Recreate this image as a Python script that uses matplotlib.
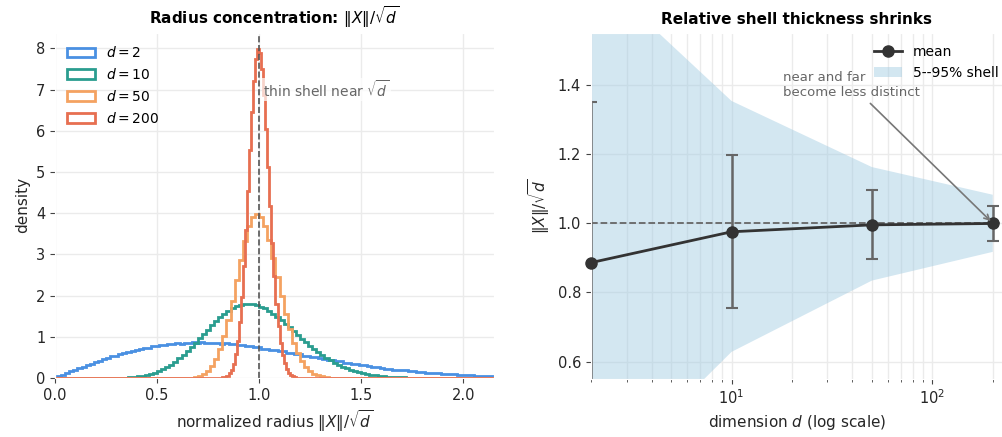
import numpy as np
import matplotlib
matplotlib.use("Agg")
import matplotlib.pyplot as plt
from matplotlib.ticker import MultipleLocator

# histogram densities of ||X||/sqrt(d)
d2_edges = np.arange(0.01, 2.1901, 0.02)
d2_vals = [0.040, 0.083, 0.118, 0.162, 0.195, 0.241, 0.272, 0.318, 0.344, 0.390,
           0.414, 0.459, 0.481, 0.525, 0.543, 0.584, 0.598, 0.640, 0.651, 0.690,
           0.697, 0.733, 0.738, 0.771, 0.772, 0.802, 0.800, 0.826, 0.822, 0.845,
           0.836, 0.858, 0.847, 0.866, 0.851, 0.866, 0.849, 0.861, 0.843, 0.852,
           0.830, 0.838, 0.814, 0.818, 0.795, 0.796, 0.772, 0.770, 0.744, 0.741,
           0.715, 0.711, 0.683, 0.679, 0.650, 0.645, 0.616, 0.610, 0.580, 0.575,
           0.545, 0.539, 0.509, 0.503, 0.474, 0.468, 0.439, 0.434, 0.405, 0.401,
           0.372, 0.368, 0.340, 0.337, 0.311, 0.307, 0.282, 0.279, 0.255, 0.252,
           0.230, 0.228, 0.206, 0.205, 0.184, 0.184, 0.164, 0.165, 0.146, 0.147,
           0.129, 0.131, 0.113, 0.116, 0.099, 0.102, 0.086, 0.089, 0.075, 0.078,
           0.065, 0.067, 0.056, 0.058, 0.049, 0.050, 0.042, 0.043, 0.036]

d10_edges = np.arange(0.30, 1.8001, 0.02)
d10_vals = [0.004, 0.007, 0.011, 0.017, 0.025, 0.037, 0.052, 0.072, 0.097, 0.128,
            0.166, 0.211, 0.264, 0.326, 0.396, 0.474, 0.560, 0.652, 0.751, 0.853,
            0.960, 1.068, 1.174, 1.278, 1.378, 1.470, 1.553, 1.628, 1.688, 1.737,
            1.773, 1.794, 1.800, 1.792, 1.770, 1.735, 1.688, 1.630, 1.563, 1.489,
            1.406, 1.320, 1.231, 1.140, 1.049, 0.958, 0.869, 0.784, 0.703, 0.627,
            0.555, 0.489, 0.428, 0.372, 0.322, 0.276, 0.236, 0.201, 0.169, 0.142,
            0.119, 0.099, 0.082, 0.067, 0.055, 0.045, 0.036, 0.029, 0.023, 0.018,
            0.015, 0.011, 0.009, 0.007, 0.005]

d50_edges = np.arange(0.6, 1.4001, 0.02)
d50_vals = [0.001, 0.002, 0.005, 0.012, 0.025, 0.049, 0.094, 0.170, 0.288, 0.461,
            0.706, 1.03, 1.42, 1.88, 2.39, 2.87, 3.32, 3.68, 3.90, 3.99,
            3.91, 3.68, 3.34, 2.92, 2.46, 2.00, 1.56, 1.18, 0.86, 0.607,
            0.413, 0.273, 0.175, 0.108, 0.064, 0.037, 0.021, 0.011, 0.006, 0.003]

d200_edges = np.arange(0.8, 1.2001, 0.01)
d200_vals = [0.003, 0.006, 0.014, 0.030, 0.059, 0.111, 0.201, 0.348, 0.575, 0.902,
             1.36, 1.97, 2.71, 3.59, 4.55, 5.53, 6.45, 7.21, 7.74, 7.98,
             7.89, 7.51, 6.87, 6.04, 5.12, 4.17, 3.27, 2.47, 1.80, 1.27,
             0.858, 0.563, 0.355, 0.216, 0.127, 0.073, 0.040, 0.021, 0.011, 0.006]

hist_labels = ["$d=2$", "$d=10$", "$d=50$", "$d=200$"]
hist_colors = ["#4a90e2", "#2a9d8f", "#f4a261", "#e76f51"]

# shell summary per dimension
dims = [2, 10, 50, 200]
mean_r = [0.886, 0.975, 0.995, 0.999]
std_r = [0.463, 0.221, 0.100, 0.050]
q05 = [0.226, 0.628, 0.834, 0.917]
q95 = [1.731, 1.353, 1.162, 1.082]

plt.rcParams.update({
    "font.family": "DejaVu Sans",
    "font.size": 11,
    "xtick.labelsize": 10.5,
    "ytick.labelsize": 10.5,
    "axes.edgecolor": "white",
    "axes.grid": True,
    "grid.color": "#ebebeb",
    "grid.linewidth": 1.0,
    "xtick.color": "#444444",
    "ytick.color": "#444444",
    "xtick.labelcolor": "#262626",
    "ytick.labelcolor": "#262626",
    "axes.labelcolor": "#262626",
})

fig = plt.figure(figsize=(10.03, 4.37), dpi=100)
ax1 = fig.add_axes([0.0548, 0.135, 0.4377, 0.79])
ax2 = fig.add_axes([0.589, 0.133, 0.411, 0.792])

# left: histograms
all_series = [(d2_edges, d2_vals), (d10_edges, d10_vals),
              (d50_edges, d50_vals), (d200_edges, d200_vals)]
for (edges, vals), lab, col in zip(all_series, hist_labels, hist_colors):
    # pad with empty bins so the outline runs along zero across the axis
    e = np.concatenate([[0.0], edges, [2.2]])
    v = np.concatenate([[0.0], vals, [0.0]])
    ax1.hist(e[:-1], bins=e, weights=v, histtype="step", color=col,
             linewidth=2.0, label=lab)

ax1.axvline(1.0, color="#555555", linestyle="--", linewidth=1.2)
ax1.text(1.02, 7.0, r"thin shell near $\sqrt{d}$", color="#666666", fontsize=10,
         va="center", ha="left",
         bbox=dict(boxstyle="square,pad=0.1", facecolor="white", edgecolor="none", alpha=0.7))
ax1.set_xlim(0, 2.15)
ax1.set_ylim(0, 8.38)
ax1.xaxis.set_major_locator(MultipleLocator(0.5))
ax1.set_title(r"Radius concentration: $\|X\|/\sqrt{d}$", fontweight="bold", fontsize=11)
ax1.set_xlabel(r"normalized radius $\|X\|/\sqrt{d}$")
ax1.set_ylabel("density")
ax1.legend(loc="upper left", frameon=False, fontsize=10)
ax1.set_axisbelow(True)

# right: mean +/- std and 5-95% band
band = ax2.fill_between(dims, q05, q95, color="#9ecae1", alpha=0.45, linewidth=0,
                        label="5--95% shell")
ax2.errorbar(dims, mean_r, yerr=std_r, fmt="none", ecolor="#666666",
             elinewidth=1.8, capsize=4, capthick=1.5)
mean_line, = ax2.plot(dims, mean_r, color="#333333", marker="o", markersize=8,
                      linewidth=2, label="mean", clip_on=False, zorder=3)
ax2.axhline(1.0, color="#666666", linestyle="--", linewidth=1.3)
ax2.annotate("near and far\nbecome less distinct", xy=(200, 1.0), xytext=(18, 1.40),
             color="#666666", fontsize=9.5, va="center", ha="left",
             arrowprops=dict(arrowstyle="->", color="#777777", lw=1.2))
ax2.set_xscale("log")
ax2.set_xlim(1.99, 225)
ax2.set_ylim(0.55, 1.55)
ax2.grid(True, which="both")
ax2.tick_params(axis="x", which="minor", length=2.5)
ax2.set_title("Relative shell thickness shrinks", fontweight="bold", fontsize=11)
ax2.set_xlabel("dimension $d$ (log scale)")
ax2.set_ylabel(r"$\|X\|/\sqrt{d}$")
ax2.legend([mean_line, band], ["mean", "5--95% shell"], loc="upper right",
           bbox_to_anchor=(1.02, 1.0), frameon=False, fontsize=10)
ax2.set_axisbelow(True)

fig.savefig("out.png", dpi=100)
